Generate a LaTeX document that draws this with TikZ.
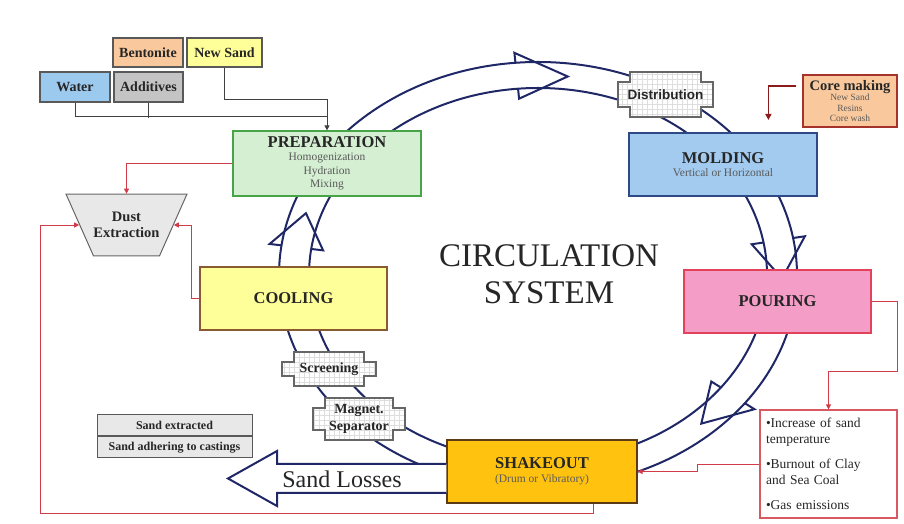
\documentclass[tikz,border=0pt]{standalone}
\usepackage{fontspec}
\setmainfont{Liberation Serif}
\newfontfamily\sansbold{Liberation Sans}
\usetikzlibrary{arrows.meta,calc,positioning,shapes.geometric}

\definecolor{ringblue}{HTML}{1F2766}
\definecolor{linkred}{HTML}{D23C48}
\definecolor{corered}{HTML}{8E1B1B}
\definecolor{prepgreen}{HTML}{D5EFD3}
\definecolor{prepedge}{HTML}{47A447}
\definecolor{moldblue}{HTML}{A3CBEF}
\definecolor{moldedge}{HTML}{2E4A86}
\definecolor{pourpink}{HTML}{F49DC6}
\definecolor{pouredge}{HTML}{E3425B}
\definecolor{shakegold}{HTML}{FFC20E}
\definecolor{shakeedge}{HTML}{5B3B16}
\definecolor{coolyellow}{HTML}{FFFF9A}
\definecolor{cooledge}{HTML}{8A5A30}
\definecolor{orangefill}{HTML}{F9C99D}
\definecolor{coreedge}{HTML}{A5332B}
\definecolor{waterblue}{HTML}{9CC9EE}
\definecolor{addgray}{HTML}{C4C4C4}
\definecolor{dustgray}{HTML}{E8E8E9}
\definecolor{subgray}{HTML}{5A5A5A}
\definecolor{inkdark}{HTML}{262626}

% stage titles inside the big boxes
\newcommand{\stagename}[1]{{\fontsize{16.5}{18}\selectfont\bfseries\color{inkdark}#1}}
% cross shaped outline for the gridded boxes
\newcommand{\notchpath}{($(path picture bounding box.north west)+(13,-1)$) -- ($(path picture bounding box.north east)+(-13,-1)$) -- ++(0,-10) -- ++(12,0) -- ($(path picture bounding box.south east)+(-1,11)$) -- ++(-12,0) -- ++(0,-10) -- ($(path picture bounding box.south west)+(13,1)$) -- ++(0,10) -- ++(-12,0) -- ($(path picture bounding box.north west)+(1,-11)$) -- ++(12,0) -- cycle}

\tikzset{
  stage/.style={draw, line width=1.2pt, align=center, text=subgray,
    font=\fontsize{11.5}{13.5}\selectfont, minimum width=188pt, minimum height=63pt},
  input/.style={draw=black!65, line width=1.2pt, text=inkdark, inner sep=2pt,
    font=\fontsize{14}{16}\selectfont\bfseries, minimum height=29pt},
  tablerow/.style={draw=black!65, fill=dustgray, line width=1pt, text=inkdark,
    font=\fontsize{12}{14}\selectfont\bfseries, minimum width=155pt, minimum height=21pt},
  gridbox/.style={font=\fontsize{14}{17}\selectfont\bfseries, text=inkdark, align=center, inner sep=1pt,
    path picture={
      \fill[white] \notchpath;
      \begin{scope}
        \clip \notchpath;
        \draw[black!13, line width=0.5pt, step=5pt] (path picture bounding box.south west) grid (path picture bounding box.north east);
      \end{scope}
      \draw[black!60, line width=1.3pt] \notchpath;
    }},
  ring/.style={ringblue, line width=2pt, line join=miter},
  redlink/.style={linkred, line width=0.9pt, -{Triangle[length=5pt,width=5pt]}},
  feed/.style={black!75, line width=1pt},
}

\begin{document}
\begin{tikzpicture}[x=1pt,y=1pt]
\useasboundingbox (0,0) rectangle (904,524);

% the sand loop
\draw[ring] (538,249) ellipse [x radius=259, y radius=213];
\draw[ring] (538,249) ellipse [x radius=229, y radius=187];
\foreach \a/\b in {95/83, 10/-1, -37/-48, 172/162}
  \draw[ring] ({538+259*cos(\a)},{249+213*sin(\a)}) -- ({538+271*cos(\a)},{249+223*sin(\a)})
    -- ({538+244*cos(\b)},{249+200*sin(\b)}) -- ({538+217*cos(\a)},{249+177*sin(\a)})
    -- ({538+229*cos(\a)},{249+187*sin(\a)});

\node[font=\fontsize{33}{37}\selectfont, text=inkdark, align=center] (circ) at (549,250) {CIRCULATION\\SYSTEM};

% additions
\node[input, fill=orangefill, minimum width=70pt] (bentonite) at (148,471.5) {Bentonite};
\node[input, fill=coolyellow, minimum width=75pt] (newsand) at (224.5,471.5) {New Sand};
\node[input, fill=waterblue, minimum width=70pt, minimum height=30pt] (water) at (75,437) {Water};
\node[input, fill=addgray, minimum width=69pt, minimum height=30pt] (additives) at (148.5,437) {Additives};

% main stages
\node[stage, fill=prepgreen, draw=prepedge, minimum height=65pt] (prep) at (327,360.5)
  {\stagename{PREPARATION}\\Homogenization\\Hydration\\Mixing};
\node[stage, fill=moldblue, draw=moldedge] (molding) at (723,359.5)
  {\stagename{MOLDING}\\Vertical or Horizontal};
\node[stage, fill=pourpink, draw=pouredge, minimum width=187pt] (pouring) at (777.5,222.5) {\stagename{POURING}};
\node[stage, fill=shakegold, draw=shakeedge, minimum width=190pt] (shakeout) at (542,52.5)
  {\stagename{SHAKEOUT}\\(Drum or Vibratory)};
\node[stage, fill=coolyellow, draw=cooledge, minimum width=187pt] (cooling) at (293.5,225.5) {\stagename{COOLING}};

\node[draw=coreedge, fill=orangefill, line width=1.2pt, minimum width=94pt, minimum height=52pt, inner sep=1pt,
  align=center, text=subgray, font=\fontsize{9.5}{10.5}\selectfont] (core) at (850,423)
  {{\fontsize{14.5}{16}\selectfont\bfseries\color{inkdark}Core making}\\New Sand\\Resins\\Core wash};

\node[trapezium, trapezium left angle=114, trapezium right angle=114, draw=black!60, fill=dustgray, line width=1pt,
  align=center, text=inkdark, font=\fontsize{14.5}{16}\selectfont\bfseries, inner xsep=0pt, inner ysep=18pt] (dust)
  at (126.5,299) {Dust\\Extraction};

% gridded treatment boxes
\node[gridbox, font=\sansbold\fontsize{13.5}{15}\selectfont\bfseries, minimum width=97pt, minimum height=47pt] (dist) at (665.5,429.5) {Distribution};
\node[gridbox, minimum width=96pt, minimum height=36pt] (screen) at (329,155) {Screening};
\node[gridbox, minimum width=94pt, minimum height=44pt] (magnet) at (359,105) {Magnet.\\Separator};

\node[draw=linkred!85, fill=white, line width=1.1pt, minimum width=137pt, minimum height=108pt, text width=125pt,
  align=left, text=inkdark, font=\fontsize{13.5}{16}\selectfont] (effects) at (828.5,60)
  {•Increase of sand\\temperature\\[9pt]•Burnout of Clay\\and Sea Coal\\[9pt]•Gas emissions};

\node[tablerow] (extracted) at (174.5,98.5) {Sand extracted};
\node[tablerow, below=0pt of extracted] (adhering) {Sand adhering to castings};

% losses leaving the shakeout
\draw[ring, fill=white] ($(shakeout.west)+(0,7.5)$) -- (277,60) -- (277,73) -- (228,45.5) -- (277,18) -- (277,31) -- ($(shakeout.west)+(0,-21.5)$);
\node[font=\fontsize{24}{28}\selectfont, text=inkdark] (losses) at (342,45) {Sand Losses};

% feed lines
\draw[feed, -{Triangle[length=5pt,width=5pt]}] (newsand.south) |- ($(prep.north)+(0,31)$) -- (prep.north);
\draw[feed] (water.south) |- ($(prep.north)+(0,14)$);
\draw[feed] (additives.south) -- ++(0,-15);

% dust and heat paths
\coordinate (sweep) at (40,11);
\draw[redlink] (prep.west) -| (dust.north);
\draw[redlink] (cooling.west) -- ++(-8,0) |- (dust.east);
\draw[redlink] ($(shakeout.south)+(51,0)$) |- (sweep) |- (dust.west);
\draw[redlink] (pouring.east) -- ++(26,0) |- ($(effects.north)+(0,38)$) -- (effects.north);
\draw[redlink] (effects.west) -- ++(-62,0) |- (shakeout.east);
\draw[corered, line width=1.4pt, -{Triangle[length=6pt,width=6pt]}] ($(core.west)+(-6,15)$) -| ++(-28,-34);

\end{tikzpicture}
\end{document}
